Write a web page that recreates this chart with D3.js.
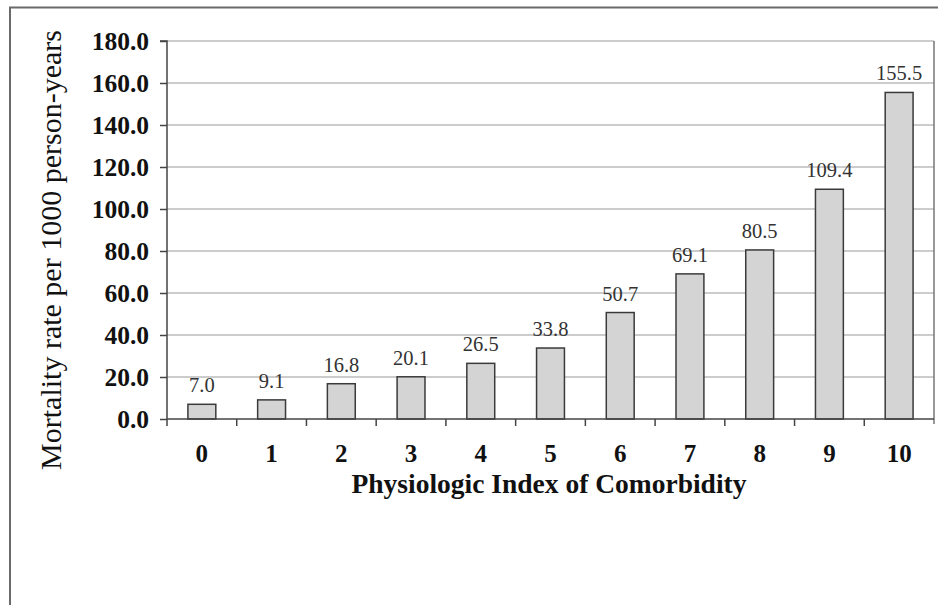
<!DOCTYPE html>
<html><head><meta charset="utf-8">
<script src="https://cdn.jsdelivr.net/npm/d3@7"></script>
<style>body{margin:0;background:#fff}svg{display:block}</style>
</head><body>
<svg id="c" width="938" height="605"></svg>
<script>
const categories = ["0","1","2","3","4","5","6","7","8","9","10"];
const values = [7.0, 9.1, 16.8, 20.1, 26.5, 33.8, 50.7, 69.1, 80.5, 109.4, 155.5];
const yTicks = [0,20,40,60,80,100,120,140,160,180];
const xTitle = "Physiologic Index of Comorbidity";
const yTitle = "Mortality rate per 1000 person-years";

const svg = d3.select("#c");
const font = "'Liberation Serif','Times New Roman',serif";
const L = 167, R = 934, T = 41, B = 419;

// outer frame
svg.append("path").attr("d", "M10,605 V7.5 H938").attr("fill","none").attr("stroke","#6a6a6a").attr("stroke-width",2);

const x = d3.scaleBand().domain(categories).range([L, R]).paddingInner(0.6).paddingOuter(0.3);
const xb = d3.scaleBand().domain(categories).range([L, R]);
const y = d3.scaleLinear().domain([0,180]).range([B, T]);

// gridlines
svg.append("g").selectAll("line").data(yTicks.slice(1)).join("line")
  .attr("x1", L).attr("x2", R).attr("y1", d=>y(d)).attr("y2", d=>y(d))
  .attr("stroke","#999").attr("stroke-width",1.2);

// right border
svg.append("line").attr("x1",R).attr("x2",R).attr("y1",T).attr("y2",B+5).attr("stroke","#777").attr("stroke-width",1.5);

// bars
svg.append("g").selectAll("rect").data(values).join("rect")
  .attr("x",(d,i)=>x(categories[i])).attr("width",x.bandwidth())
  .attr("y",d=>y(d)).attr("height",d=>B-y(d))
  .attr("fill","#d4d4d4").attr("stroke","#3a3a3a").attr("stroke-width",1.5);

// value labels
svg.append("g").selectAll("text").data(values).join("text")
  .attr("x",(d,i)=>x(categories[i])+x.bandwidth()/2).attr("y",d=>y(d)-12)
  .attr("text-anchor","middle").attr("font-family",font).attr("font-size",20.5)
  .attr("fill","#333").text(d=>d.toFixed(1));

// y axis
const ya = d3.axisLeft(y).tickValues(yTicks).tickFormat(d=>d.toFixed(1)).tickSize(7).tickPadding(11);
const gy = svg.append("g").attr("transform",`translate(${L},0)`).call(ya);
gy.select(".domain").attr("stroke","#444").attr("stroke-width",1.5).attr("d",`M-7,${T}H0V${B}`);
gy.selectAll(".tick line").attr("stroke","#444").attr("stroke-width",1.5);
gy.selectAll("text").attr("font-family",font).attr("font-size",25.5).attr("font-weight","bold").attr("fill","#111");

// x axis
const gx = svg.append("g").attr("transform",`translate(0,${B})`);
gx.append("line").attr("x1",L).attr("x2",R).attr("stroke","#444").attr("stroke-width",1.5);
gx.selectAll("line.t").data(categories).join("line").attr("class","t")
  .attr("x1",d=>xb(d)).attr("x2",d=>xb(d)).attr("y1",0).attr("y2",7)
  .attr("stroke","#444").attr("stroke-width",1.5);
gx.selectAll("text").data(categories).join("text")
  .attr("x",d=>xb(d)+xb.bandwidth()/2).attr("y",43)
  .attr("text-anchor","middle").attr("font-family",font).attr("font-size",25)
  .attr("font-weight","bold").attr("fill","#111").text(d=>d);

// titles
svg.append("text").attr("x",549).attr("y",493).attr("text-anchor","middle")
  .attr("font-family",font).attr("font-size",27.5).attr("font-weight","bold").attr("fill","#111").text(xTitle);
svg.append("text").attr("transform","translate(61,250) rotate(-90)").attr("text-anchor","middle")
  .attr("font-family",font).attr("font-size",30).attr("fill","#111").text(yTitle);
</script>
</body></html>
